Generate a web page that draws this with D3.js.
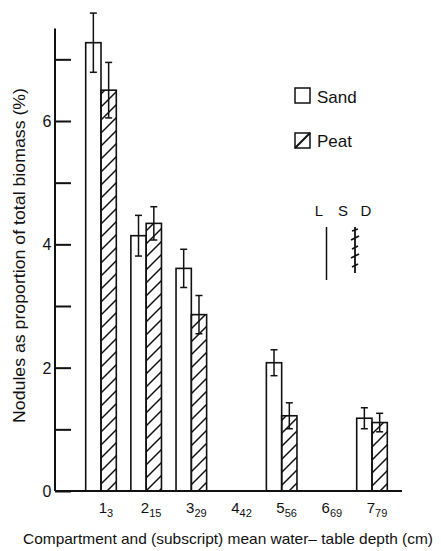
<!DOCTYPE html>
<html>
<head>
<meta charset="utf-8">
<script src="https://cdn.jsdelivr.net/npm/d3@7"></script>
<style>
  body { margin: 0; background: #fff; }
  text { font-family: "Liberation Sans", "DejaVu Sans", sans-serif; fill: #111; }
</style>
</head>
<body>
<svg id="chart" width="441" height="551"></svg>
<script>
'use strict'

var compartments = ["1", "2", "3", "4", "5", "6", "7"],
    depths = ["3", "15", "29", "42", "56", "69", "79"],
    sand = [7.27, 4.14, 3.61, null, 2.08, null, 1.18],
    sandErr = [0.48, 0.33, 0.31, null, 0.21, null, 0.17],
    peat = [6.5, 4.34, 2.86, null, 1.22, null, 1.11],
    peatErr = [0.45, 0.27, 0.31, null, 0.21, null, 0.15],
    yTicks = [0, 1, 2, 3, 4, 5, 6, 7],
    yLabels = [0, 2, 4, 6];

var svg = d3.select("#chart");

var x = d3.scalePoint().domain(compartments).range([101, 372]);
var sub = d3.scaleBand().domain(["Sand", "Peat"]).range([-15.3, 15.3]);
var y = d3.scaleLinear().domain([0, 7.5]).range([491, 28.5]);

// hatch for peat
var pat = svg.append("defs").append("pattern")
    .attr("id", "hatch")
    .attr("patternUnits", "userSpaceOnUse")
    .attr("width", 13).attr("height", 13);
pat.append("path")
    .attr("d", "M0,13 L13,0 M-4,4 L4,-4 M9,17 L17,9")
    .attr("stroke", "#111").attr("stroke-width", 1.5);

var rows = [];
compartments.forEach(function(c, i) {
  if (sand[i] != null) rows.push({c: c, s: "Sand", v: sand[i], e: sandErr[i]});
  if (peat[i] != null) rows.push({c: c, s: "Peat", v: peat[i], e: peatErr[i]});
});

// bars
svg.append("g").selectAll("rect")
  .data(rows)
  .enter().append("rect")
    .attr("x", function(d) { return x(d.c) + sub(d.s); })
    .attr("y", function(d) { return y(d.v); })
    .attr("width", sub.bandwidth())
    .attr("height", function(d) { return y(0) - y(d.v); })
    .attr("fill", function(d) { return d.s == "Peat" ? "url(#hatch)" : "#fff"; })
    .attr("stroke", "#111")
    .attr("stroke-width", 1.6);

// error bars
var err = svg.append("g").attr("stroke", "#111").attr("stroke-width", 1.5)
  .selectAll("g").data(rows).enter().append("g")
    .attr("transform", function(d) { return "translate(" + (x(d.c) + sub(d.s) + sub.bandwidth() / 2) + ",0)"; });
err.append("line")
    .attr("y1", function(d) { return y(d.v + d.e); })
    .attr("y2", function(d) { return y(d.v - d.e); });
err.append("line")
    .attr("x1", -3.5).attr("x2", 3.5)
    .attr("y1", function(d) { return y(d.v + d.e); })
    .attr("y2", function(d) { return y(d.v + d.e); });
err.append("line")
    .attr("x1", -3.5).attr("x2", 3.5)
    .attr("y1", function(d) { return y(d.v - d.e); })
    .attr("y2", function(d) { return y(d.v - d.e); });

// y axis, ticks point inward
var yAxis = svg.append("g").attr("transform", "translate(55,0)")
    .call(d3.axisRight(y).tickValues(yTicks).tickSize(16).tickFormat(""));
yAxis.select(".domain").remove();
yAxis.selectAll(".tick line").attr("stroke", "#111").attr("stroke-width", 2);
svg.append("line")
    .attr("x1", 55).attr("x2", 55)
    .attr("y1", y(7.5)).attr("y2", y(0))
    .attr("stroke", "#111").attr("stroke-width", 2);

svg.append("g").selectAll("text")
  .data(yLabels)
  .enter().append("text")
    .attr("x", 47)
    .attr("y", function(d) { return y(d) + 6; })
    .attr("text-anchor", "middle")
    .attr("font-size", 16)
    .text(function(d) { return d; });

// baseline
svg.append("line")
    .attr("x1", 55).attr("x2", 402)
    .attr("y1", y(0)).attr("y2", y(0))
    .attr("stroke", "#111").attr("stroke-width", 2);

// x labels with subscript depth
var xl = svg.append("g").selectAll("text")
  .data(compartments)
  .enter().append("text")
    .attr("x", function(d) { return x(d) + 5; })
    .attr("y", 513)
    .attr("text-anchor", "middle")
    .attr("font-size", 15);
xl.append("tspan").text(function(d) { return d; });
xl.append("tspan")
    .attr("dy", 4)
    .attr("font-size", 11)
    .text(function(d, i) { return depths[i]; });

// axis titles
svg.append("text")
    .attr("x", 23).attr("y", 544)
    .attr("font-size", 15)
    .attr("textLength", 410)
    .attr("lengthAdjust", "spacingAndGlyphs")
    .text("Compartment and (subscript) mean water\u2013 table depth (cm)");

svg.append("text")
    .attr("transform", "translate(25,423) rotate(-90)")
    .attr("font-size", 16)
    .attr("textLength", 335)
    .attr("lengthAdjust", "spacingAndGlyphs")
    .text("Nodules as proportion of total biomass (%)");

// legend
var legend = svg.append("g");
legend.append("rect")
    .attr("x", 295).attr("y", 88).attr("width", 15).attr("height", 15)
    .attr("fill", "#fff").attr("stroke", "#111").attr("stroke-width", 1.5);
legend.append("text").attr("x", 317).attr("y", 103).attr("font-size", 17).text("Sand");
legend.append("rect")
    .attr("x", 295).attr("y", 133).attr("width", 15).attr("height", 15)
    .attr("fill", "#fff").attr("stroke", "#111").attr("stroke-width", 1.5);
legend.append("line")
    .attr("x1", 295).attr("y1", 148).attr("x2", 310).attr("y2", 133)
    .attr("stroke", "#111").attr("stroke-width", 2);
legend.append("text").attr("x", 317).attr("y", 147).attr("font-size", 17).text("Peat");

// LSD marks
var lsd = svg.append("g");
[["L", 319], ["S", 343], ["D", 366]].forEach(function(p) {
  lsd.append("text").attr("x", p[1]).attr("y", 216)
    .attr("text-anchor", "middle").attr("font-size", 15).text(p[0]);
});
lsd.append("line")
    .attr("x1", 326.5).attr("x2", 326.5).attr("y1", 227).attr("y2", 280)
    .attr("stroke", "#111").attr("stroke-width", 1.5);
lsd.append("path")
    .attr("d", "M355,227 L355,273 M352,231 L358,229 M351,240 L359,236 M352,249 L358,246 M351,258 L359,254 M352,267 L358,264")
    .attr("fill", "none").attr("stroke", "#111").attr("stroke-width", 1.8);
</script>
</body>
</html>
